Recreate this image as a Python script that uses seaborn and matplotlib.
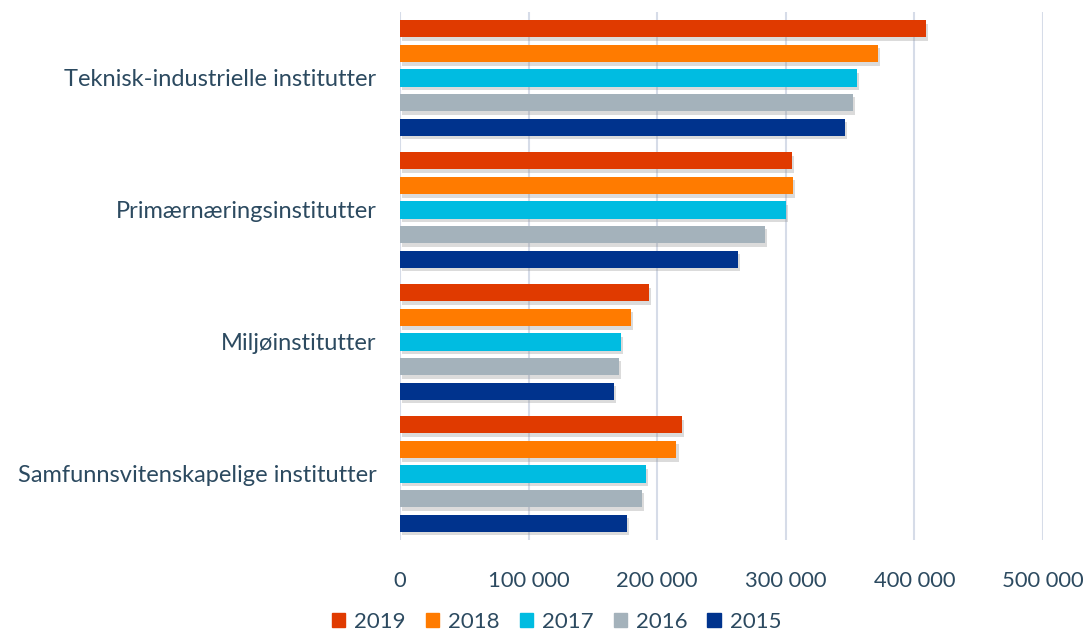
import matplotlib
matplotlib.use("Agg")
import matplotlib.pyplot as plt
import matplotlib.patheffects as pe
from matplotlib.ticker import FuncFormatter
import pandas as pd
import seaborn as sns

# values
categories = [
    "Teknisk-industrielle institutter",
    "Primærnæringsinstitutter",
    "Miljøinstitutter",
    "Samfunnsvitenskapelige institutter",
]
years = ["2019", "2018", "2017", "2016", "2015"]
v2019 = [409000, 304500, 193500, 219300]
v2018 = [371800, 305600, 179800, 215000]
v2017 = [355000, 299900, 171700, 191000]
v2016 = [352000, 283800, 170400, 187800]
v2015 = [345700, 262800, 166300, 176700]
year_colors = ["#E03A00", "#FF7B00", "#00BCE1", "#A4B2BB", "#00338D"]
x_ticks = [0, 100000, 200000, 300000, 400000, 500000]

rows = []
for yr, vals in zip(years, [v2019, v2018, v2017, v2016, v2015]):
    for cat, v in zip(categories, vals):
        rows.append(dict(kategori=cat, year=yr, value=v))
df = pd.DataFrame(rows)

sns.set_theme(style="white")
plt.rcParams["font.family"] = ["Lato", "DejaVu Sans"]
TXT = "#2C4A60"

fig = plt.figure(figsize=(10.85, 6.33), dpi=100)
ax = fig.add_axes([400 / 1085, 1 - 540 / 633, 643 / 1085, 528 / 633])

sns.barplot(df, x="value", y="kategori", hue="year", order=categories, hue_order=years,
            palette=year_colors, orient="h", width=0.93, gap=0.3, saturation=1,
            errorbar=None, ax=ax, zorder=3)

# soft drop shadow like the office-style original
for bar in ax.patches:
    bar.set_linewidth(0)
    bar.set_path_effects([pe.SimplePatchShadow(offset=(1.5, -2.5), shadow_rgbFace="#8a8a8a", alpha=0.3),
                          pe.Normal()])

ax.set_xlim(0, 500000)
ax.set_ylim(3.5, -0.5)
ax.set_xticks(x_ticks)
ax.xaxis.set_major_formatter(FuncFormatter(lambda v, _: f"{int(v):,}".replace(",", " ")))
ax.grid(axis="x", color="#D6DCE8", lw=1.5, zorder=0)
ax.grid(axis="y", visible=False)
for s in ax.spines.values():
    s.set_visible(False)
ax.tick_params(axis="x", length=0, pad=22, labelsize=15.8, labelcolor=TXT)
ax.tick_params(axis="y", length=0, pad=17, labelsize=17, labelcolor=TXT)
ax.set_xlabel("")
ax.set_ylabel("")

ax.get_legend().remove()
handles = [plt.Rectangle((0, 0), 1, 1, color=c) for c in year_colors]
fig.legend(handles, years, loc="center", bbox_to_anchor=(0.513, 0.017), ncol=5, frameon=False,
           fontsize=16, labelcolor=TXT, handlelength=0.6, handleheight=0.6, handletextpad=0.4,
           columnspacing=0.9)

fig.savefig("out.png", dpi=100)
